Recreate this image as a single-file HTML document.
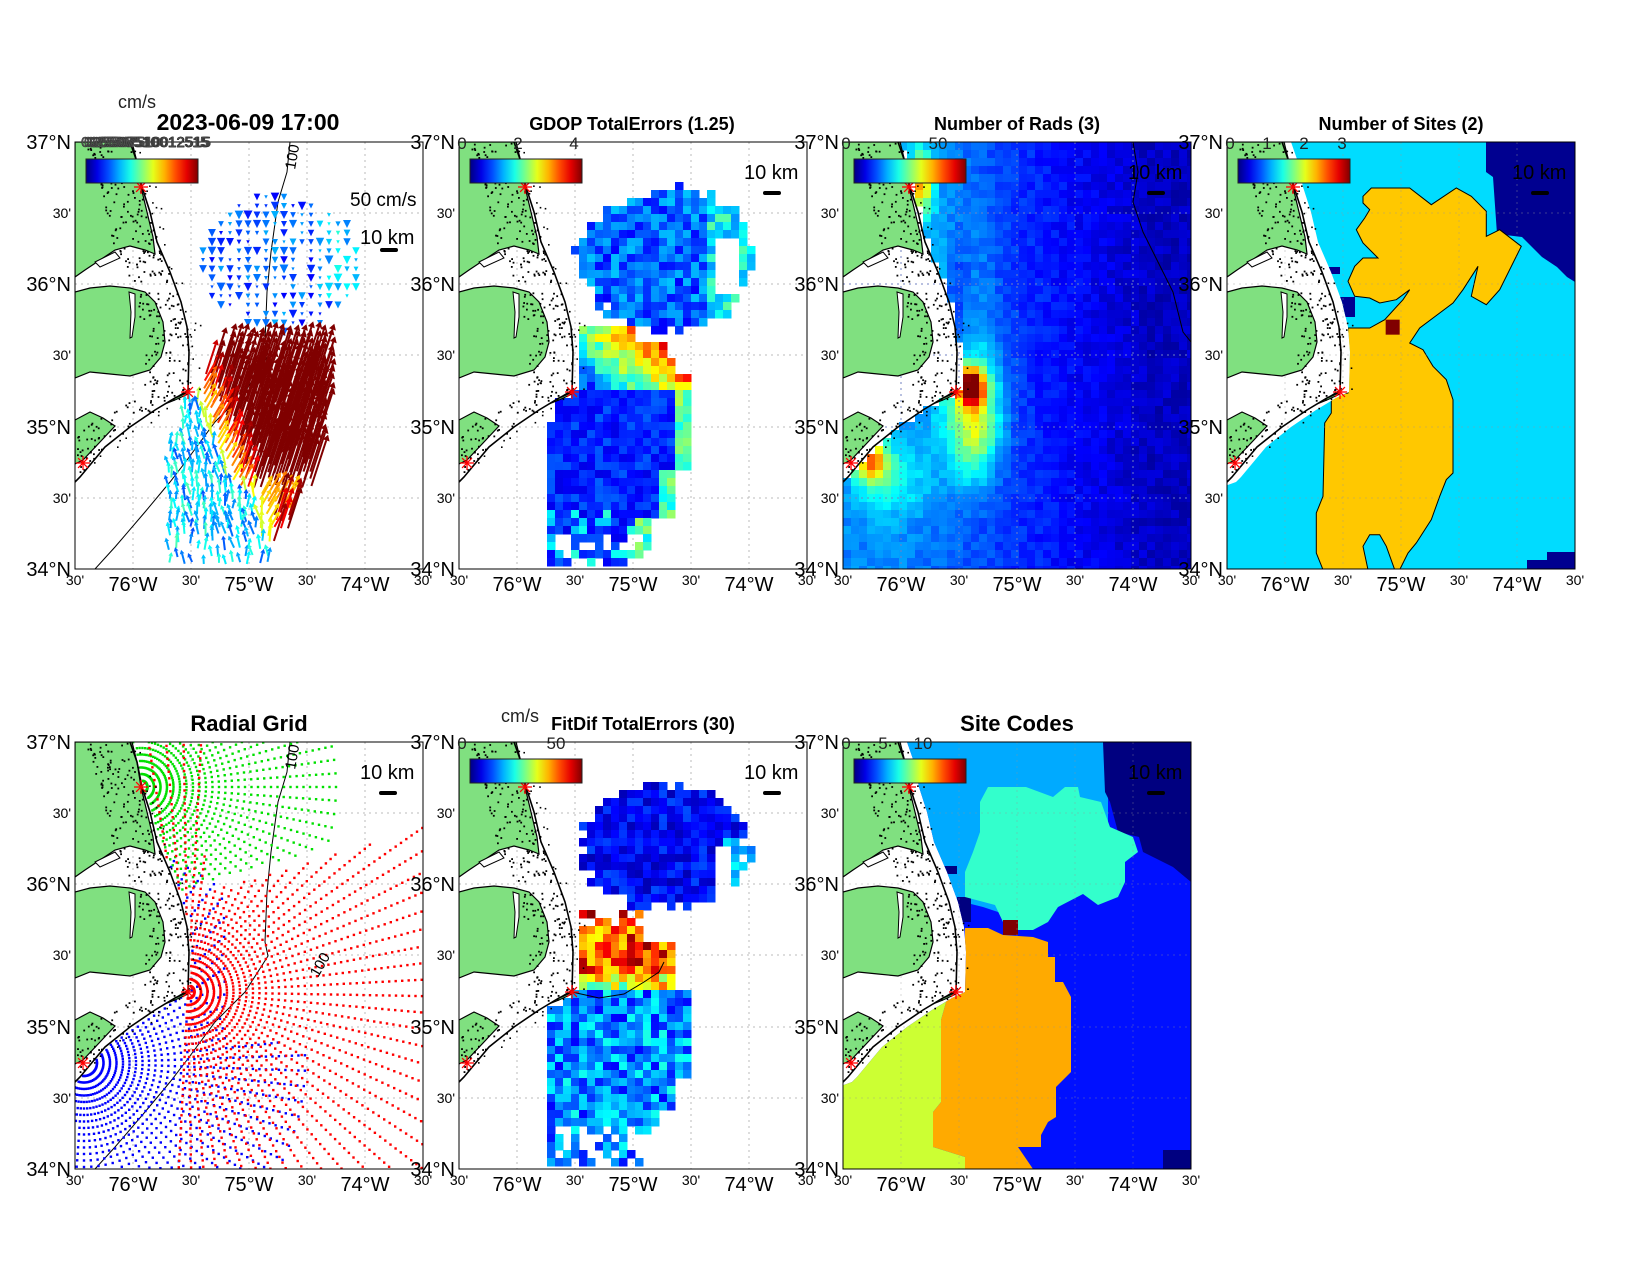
<!DOCTYPE html>
<html><head><meta charset="utf-8"><style>
html,body{margin:0;padding:0;background:#fff}
svg{display:block}
text{font-family:"Liberation Sans",Arial,sans-serif}
</style></head><body>
<svg id="s" width="1650" height="1275" viewBox="0 0 1650 1275" xmlns="http://www.w3.org/2000/svg"></svg>
<script>
(function(){
let seed=12345;function R(){seed=(seed*1103515245+12345)%2147483648;return seed/2147483648;}
function cl(v){return v<0?0:v>1?1:v;}
function jet(t){t=cl(t);const r=cl(1.5-Math.abs(4*t-3)),g=cl(1.5-Math.abs(4*t-2)),b=cl(1.5-Math.abs(4*t-1));return `rgb(${Math.round(r*255)},${Math.round(g*255)},${Math.round(b*255)})`;}
const CP=[[0,55],[20,62],[45,67],[70,75],[100,82],[130,95],[160,106],[185,112],[210,114],[250,113],[256,100],[268,80],[285,55],[305,30],[335,5],[340,0]];
function coastX(y){if(y>340)return -20;for(let i=0;i<CP.length-1;i++){const a=CP[i],b=CP[i+1];if(y>=a[0]&&y<=b[0]){return a[1]+(b[1]-a[1])*(y-a[0])/(b[0]-a[0]);}}return -20;}
function waterPoly(off){let p=CP.map(c=>`${c[1]+off},${c[0]}`).join(' ');return p+` -5,345 -5,432 353,432 353,-5 ${55+off},-5`;}
const W=348,H=427;
const P=[[75,142],[459,142],[843,142],[1227,142],[75,742],[459,742],[843,742]];
let out='<defs><clipPath id="box"><rect x="0" y="0" width="348" height="427"/></clipPath>';
out+=`<clipPath id="wat"><polygon points="${waterPoly(2)}"/></clipPath><clipPath id="wat8"><polygon points="${waterPoly(9)}"/></clipPath>`;
out+='<linearGradient id="jg" x1="0" x2="1" y1="0" y2="0">';
for(let i=0;i<=10;i++)out+=`<stop offset="${i/10}" stop-color="${jet(i/10)}"/>`;
out+='</linearGradient></defs>';
let land='<g>';
land+='<polygon fill="#80e080" stroke="#000" stroke-width="1.2" points="0,0 57,0 62,20 66,45 72,70 78,95 80,112 70,108 55,104 40,108 25,118 10,128 0,135"/>';
land+='<polygon fill="#80e080" stroke="#000" stroke-width="1.2" points="0,150 15,146 35,144 55,146 70,150 80,160 88,180 90,200 86,215 75,228 55,234 35,232 15,230 0,236"/>';
land+='<polygon fill="#fff" stroke="#000" stroke-width="1" points="54,150 60,152 60,175 57,195 55,196 56,170"/>';
land+='<polygon fill="#fff" stroke="#000" stroke-width="1" points="20,120 40,110 45,116 25,125"/>';
land+='<polygon fill="#80e080" stroke="#000" stroke-width="1.2" points="0,278 15,270 28,276 40,284 25,300 8,318 0,322"/>';
land+='<polygon fill="#80e080" stroke="#000" stroke-width="1" points="113,248 100,256 90,262 100,258 113,252"/>';
land+='<polyline fill="none" stroke="#000" stroke-width="1.6" points="'+CP.map(c=>`${c[1]},${c[0]}`).join(' ')+'"/>';
let sd=777;function R2(){sd=(sd*1103515245+12345)%2147483648;return sd/2147483648;}
for(let i=0;i<380;i++){const y=R2()*335;let cx=coastX(y);let x=cx-R2()*45;if(y>140&&y<150)continue;if(x<0)continue;land+=`<rect x="${x.toFixed(1)}" y="${y.toFixed(1)}" width="1.8" height="1.8" fill="#000"/>`;}
for(let i=0;i<40;i++){const y=R2()*330;let x=coastX(y)+R2()*14;land+=`<rect x="${x.toFixed(1)}" y="${y.toFixed(1)}" width="1.6" height="1.6" fill="#000"/>`;}
land+='</g>';
function star(x,y){let s='';for(let a=0;a<180;a+=45){const r=a*Math.PI/180;s+=`<line x1="${x-7*Math.cos(r)}" y1="${y-7*Math.sin(r)}" x2="${x+7*Math.cos(r)}" y2="${y+7*Math.sin(r)}" stroke="#f00" stroke-width="1.3"/>`;}return s;}
const stars=star(66,45)+star(113,250)+star(8,321);
function grid(){let s='';for(const y of [71,142,213,285,356])s+=`<line x1="0" y1="${y}" x2="348" y2="${y}" stroke="#bbb" stroke-dasharray="2,4"/>`;for(const x of [58,116,174,232,290])s+=`<line x1="${x}" y1="0" x2="${x}" y2="427" stroke="#bbb" stroke-dasharray="2,4"/>`;return s;}
const iso='<polyline fill="none" stroke="#000" stroke-width="1" points="215,0 212,30 203,60 196,110 192,150 190,200 193,214 170,250 140,280 112,318 95,340 70,370 40,405 20,427"/>';
function cells(fn,step){step=step||8;let s='';for(let y=0;y<H;y+=step)for(let x=0;x<W;x+=step){const cx=x+step/2,cy=y+step/2;if(cx<coastX(cy)+3)continue;const c=fn(cx,cy);if(c)s+=`<rect x="${x}" y="${y}" width="${step+0.5}" height="${step+0.5}" fill="${c}"/>`;}return s;}
function g2(x,y,cx,cy,sx,sy){return Math.exp(-((x-cx)*(x-cx)/(2*sx*sx)+(y-cy)*(y-cy)/(2*sy*sy)));}
const cbr='<rect x="11" y="17" width="112" height="24" fill="url(#jg)" stroke="#222" stroke-width="1"/>';
function cbl(labels){let s='';for(const l of labels)s+=`<text x="${l[0]}" y="7" font-size="17" text-anchor="middle" fill="#222">${l[1]}</text>`;return s;}
function km(y){return `<text x="285" y="${y}" font-size="20">10 km</text><rect x="304" y="${y+12}" width="18" height="4" rx="2" fill="#000"/>`;}
function axes(px,py){let s='';const lat=[['37°N',0],["30'",71],['36°N',142],["30'",213],['35°N',285],["30'",356],['34°N',427]];for(const l of lat){const big=l[0].length>3;s+=`<text x="${px-4}" y="${py+l[1]+(big?7:5)}" font-size="${big?20:14}" text-anchor="end">${l[0]}</text>`;}
const lon=[["30'",0],['76°W',58],["30'",116],['75°W',174],["30'",232],['74°W',290],["30'",348]];for(const l of lon){const big=l[0].length>3;s+=`<text x="${px+l[1]}" y="${py+H+(big?22:16)}" font-size="${big?20:14}" text-anchor="middle">${l[0]}</text>`;}return s;}
function panel(i,content,extra){const [px,py]=P[i];return `<g transform="translate(${px},${py})"><g clip-path="url(#box)">${content}</g><rect x="0" y="0" width="348" height="427" fill="none" stroke="#000" stroke-width="1"/>${extra||''}</g>`;}

// Panel 0
seed=11;
let v0=grid()+iso;
for(let y=55;y<200;y+=9)for(let x=128;x<285;x+=9){const d=Math.pow((x-205)/80,2)+Math.pow((y-122)/68,2);if(d>1+0.25*(R()-0.5))continue;if(R()<0.12)continue;const t=0.12+0.18*R()+(x>240&&y<160?0.12:0);const L=3+6*R();v0+=`<polygon points="${x-L/2},${y-L/2} ${x+L/2},${y-L/2} ${x},${y+L/2}" fill="${jet(t)}"/>`;}
for(let y=232;y<427;y+=7)for(let x=88;x<250;x+=7){
 const xx=x+3*(R()-0.5),yy=y+3*(R()-0.5);
 let left=y<260?125:y<300?105:92, right=y<300?245:y<350?240:y<390?215:200;
 if(xx<left||xx>right)continue; if(y>395&&R()<0.4)continue;
 let s=cl((xx-98-0.4*(y-232))/42);
 if(y>350)s*=0.5;
 if(y>365&&xx>195)s=0.7+0.15*R();
 s=cl(s+0.1*(R()-0.5));
 let ang=(s>0.7?-72:s>0.4?-60:-95+40*(R()-0.5))*Math.PI/180;
 const L=s>0.3?8+40*s*s:5+6*R();
 const ex=xx+L*Math.cos(ang),ey=yy+L*Math.sin(ang);
 const c=s>0.3?jet(s>0.85?1:0.55+0.45*(s-0.3)/0.55):jet(0.2+0.25*R());
 const hx=Math.cos(ang),hy=Math.sin(ang),hs=4+2*s;
 v0+=`<line x1="${xx.toFixed(1)}" y1="${yy.toFixed(1)}" x2="${ex.toFixed(1)}" y2="${ey.toFixed(1)}" stroke="${c}" stroke-width="2"/>`;
 v0+=`<polygon points="${(ex+hx*hs).toFixed(1)},${(ey+hy*hs).toFixed(1)} ${(ex-hy*hs*0.6).toFixed(1)},${(ey+hx*hs*0.6).toFixed(1)} ${(ex+hy*hs*0.6).toFixed(1)},${(ey-hx*hs*0.6).toFixed(1)}" fill="${c}"/>`;
}
v0+=land+stars+cbr;
v0+='<text x="275" y="64" font-size="19">50 cm/s</text><text x="285" y="102" font-size="20">10 km</text><rect x="305" y="106" width="18" height="4" rx="2" fill="#000"/>';
out+=panel(0,v0);
out+=`<text x="118" y="108" font-size="18" fill="#222">cm/s</text>`;
out+=`<text x="248" y="130" font-size="23" font-weight="bold" text-anchor="middle">2023-06-09 17:00</text>`;
for(let k=0;k<4;k++)out+=`<text x="${81+k*3}" y="147" font-size="15" fill="#555" stroke="#333" stroke-width="0.5" textLength="${130-k*4}" lengthAdjust="spacingAndGlyphs">025507510012515</text>`;
out+=`<text x="0" y="0" font-size="15" transform="translate(295,170) rotate(-80)">100</text>`;

// Panel 1 GDOP
seed=22;
let v1=grid()+cells((x,y)=>{const n=R();
 const d=Math.pow((x-208)/88,2)+Math.pow((y-118)/72,2);
 if(y<190&&d<1+0.3*(R()-0.5)){ if(x>255&&x<280&&y>95&&y<150)return null; return jet(0.12+0.2*n+(x>245?0.15:0));}
 if(y>=188&&y<=425){let left=y<250?122:y<280?95:90;let right=y<200?175:y<215?205:y<230?215:y<330?228:y<380?215:y<410?195:180;
  if(x<left||x>right)return null; if(y>395&&R()<0.35)return null;
  if(y<250){const t=0.5+0.45*(x-122)/90-0.35*(y-188)/62+0.2*(n-0.5);return jet(t);}
  let t=0.1+0.12*n; if(x>right-16)t+=0.25+0.1*R(); if(y>370&&R()<0.3)t+=0.2;return jet(t);}
 return null;});
v1+=land+stars+cbr+km(37);
out+=panel(1,v1,cbl([[3,'0'],[59,'2'],[115,'4']]));
out+=`<text x="632" y="130" font-size="18" font-weight="bold" text-anchor="middle">GDOP TotalErrors (1.25)</text>`;

// Panel 2
seed=33;
let v2=cells((x,y)=>{const v=4+12*cl(1-(x-60)/250)+48*g2(x,y,128,245,9,12)+14*g2(x,y,128,262,22,45)+12*g2(x,y,132,290,16,35)+30*g2(x,y,28,318,12,16)+8*g2(x,y,50,340,25,25)+28*g2(x,y,78,40,8,22)+6*g2(x,y,110,150,25,90)-8*g2(x,y,115,170,10,60)+4*(R()-0.5);return jet(v/62);});
v2+=grid().replace(/#bbb/g,'#7080c0')+'<polyline fill="none" stroke="#000" stroke-width="1" points="290,0 295,30 290,60 300,90 320,130 330,150 340,190 348,200"/>';
v2+=land+stars+cbr+km(37);
out+=panel(2,v2,cbl([[3,'0'],[95,'50']]));
out+=`<text x="1017" y="130" font-size="18" font-weight="bold" text-anchor="middle">Number of Rads (3)</text>`;

// Panel 3
function cv(arr){let s='';for(let i=0;i<arr.length;i+=2)s+=`${((arr[i]-232)/3).toFixed(1)},${((arr[i+1]-187)/3).toFixed(1)} `;return s;}
const yel=[640,350,665,325,780,325,845,375,920,325,965,350,1010,395,1010,470,1050,450,1115,500,1050,630,1010,675,965,650,985,560,940,630,910,670,870,700,810,745,780,790,820,810,850,860,890,900,910,960,910,1180,890,1200,870,1250,845,1320,800,1390,775,1420,750,1470,735,1470,710,1400,690,1365,660,1365,640,1400,655,1470,520,1470,500,1420,500,1300,520,1250,525,1030,545,1000,545,950,595,940,595,745,660,745,705,720,760,660,780,630,740,660,690,670,660,655,615,650,595,605,615,560,640,535,685,535,640,490,620,450,645,415,660,390,640,370];
let v3='<g clip-path="url(#wat8)"><rect x="0" y="0" width="348" height="427" fill="#00dcff"/>';
v3+='<polygon fill="#000090" points="259,0 348,0 348,140 340,135 330,125 315,115 305,105 295,95 270,92 266,35 259,30"/>';
v3+='<polygon fill="#000090" points="320,410 348,410 348,427 300,427 300,418 320,418"/><rect x="98" y="125" width="15" height="7" fill="#000090"/><rect x="113" y="155" width="15" height="20" fill="#000090"/>';
v3+=`<polygon fill="#ffc800" stroke="#000" stroke-width="1" points="${cv(yel)}"/>`;
v3+=`<rect x="${(708-232)/3}" y="${(720-187)/3}" width="14" height="15" fill="#800000"/>`;
v3+='</g>'+grid().replace(/#bbb/g,'rgba(150,150,150,0.4)');
v3+=land+stars+cbr+km(37);
out+=panel(3,v3,cbl([[3,'0'],[40,'1'],[77,'2'],[115,'3']]));
out+=`<text x="1401" y="130" font-size="18" font-weight="bold" text-anchor="middle">Number of Sites (2)</text>`;

// Panel 4 radial grid
let v4=grid()+iso;
function fan(sx,sy,b0,b1,bs,rmax,col,rs,lim){let s='';for(let b=b0;b<=b1;b+=bs){const a=b*Math.PI/180;for(let r=rs;r<=rmax;r+=rs){const x=sx+r*Math.sin(a),y=sy-r*Math.cos(a);if(x<0||x>W||y<0||y>H)continue;if(x<coastX(y)+2)continue;if(lim&&!lim(x,y))continue;s+=`<rect x="${(x-1.2).toFixed(1)}" y="${(y-1.2).toFixed(1)}" width="2.4" height="2.4" fill="${col}"/>`;}}return s;}
v4+=fan(66,45,-10,175,4,200,'#00e000',6.5,(x,y)=>y<150-0.3*(x-100));
v4+=fan(9,321,20,200,4,225,'#0000ff',6.5,(x,y)=>!(y<300&&x>150));
v4+=fan(113,250,-25,185,4,300,'#ff0000',6.5,(x,y)=>y>100+(300-x)*0.3||x<130);
v4+=land+stars+km(37);
out+=panel(4,v4);
out+=`<text x="249" y="731" font-size="22" font-weight="bold" text-anchor="middle">Radial Grid</text>`;
out+=`<text x="0" y="0" font-size="15" transform="translate(295,770) rotate(-80)">100</text>`;
out+=`<text x="0" y="0" font-size="15" transform="translate(318,978) rotate(-60)">100</text>`;

// Panel 5 FitDif
seed=55;
let v5=grid()+cells((x,y)=>{const n=R();
 const d=Math.pow((x-205)/85,2)+Math.pow((y-105)/62,2);
 if(y<172&&d<1+0.3*(R()-0.5)&&x>118){ if(x>255&&x<275&&y>100&&y<150)return null; return jet(0.05+0.15*n+(x>262&&y>95?0.18:0));}
 if(y>=172&&y<250&&x>=120&&x<=(y<200?180:212)){ if(y<185&&R()<0.4)return null;return jet(0.62+0.38*n-(y>235?0.2:0));}
 if(y>=250&&y<=425){let left=y<265?105:90;let right=y<290?228:y<340?228:y<370?215:y<400?200:180;if(x<left||x>right)return null;if(y>385&&R()<0.35)return null;return jet(0.12+0.28*n);}
 return null;});
v5+='<polyline fill="none" stroke="#000" stroke-width="1" points="113,250 140,256 165,252 185,240 200,230 205,220"/>';
v5+=land+stars+cbr+km(37);
out+=panel(5,v5,cbl([[3,'0'],[97,'50']]));
out+=`<text x="501" y="722" font-size="18" fill="#222">cm/s</text>`;
out+=`<text x="643" y="730" font-size="18" font-weight="bold" text-anchor="middle">FitDif TotalErrors (30)</text>`;

// Panel 6 site codes
let v6='<g clip-path="url(#wat8)"><rect x="0" y="0" width="348" height="427" fill="#0010ff"/>';
v6+='<polygon fill="#00aaff" points="0,0 265,0 265,95 245,110 240,150 215,165 170,175 140,165 120,160 100,156 0,156"/>';
v6+='<polygon fill="#000080" points="260,0 348,0 348,140 330,125 320,120 300,110 296,95 275,90 267,60 262,50"/>';
v6+='<rect x="320" y="408" width="28" height="19" fill="#000080"/><rect x="100" y="124" width="14" height="8" fill="#000080"/><rect x="114" y="155" width="14" height="25" fill="#000080"/>';
v6+='<polygon fill="#33ffcc" points="145,45 183,45 210,55 222,45 235,45 237,55 258,60 267,85 290,95 295,110 282,120 282,140 275,155 255,163 240,152 215,165 205,180 190,188 165,188 160,180 152,163 122,155 122,130 130,110 137,90 137,60"/>';
v6+='<polygon fill="#ffaa00" points="122,186 145,186 160,193 190,195 205,200 205,215 212,215 212,240 220,240 228,255 228,330 213,345 213,375 205,380 198,393 198,405 175,405 190,427 120,427 122,415 90,405 90,370 98,360 98,278 105,253 120,250 122,210"/>';
v6+='<polygon fill="#ccff33" points="0,340 20,320 35,305 50,290 60,280 70,270 90,260 105,253 98,278 98,360 90,370 90,405 122,415 122,427 0,427"/>';
v6+='<rect x="160" y="178" width="15" height="15" fill="#800000"/>';
v6+='</g>'+grid().replace(/#bbb/g,'rgba(150,150,150,0.35)');
v6+=land+stars+cbr+km(37);
out+=panel(6,v6,cbl([[3,'0'],[40,'5'],[80,'10']]));
out+=`<text x="1017" y="731" font-size="22" font-weight="bold" text-anchor="middle">Site Codes</text>`;

for(let i=0;i<7;i++)out+=axes(P[i][0],P[i][1]);
document.getElementById('s').innerHTML=out;
})();
</script>
</body></html>
